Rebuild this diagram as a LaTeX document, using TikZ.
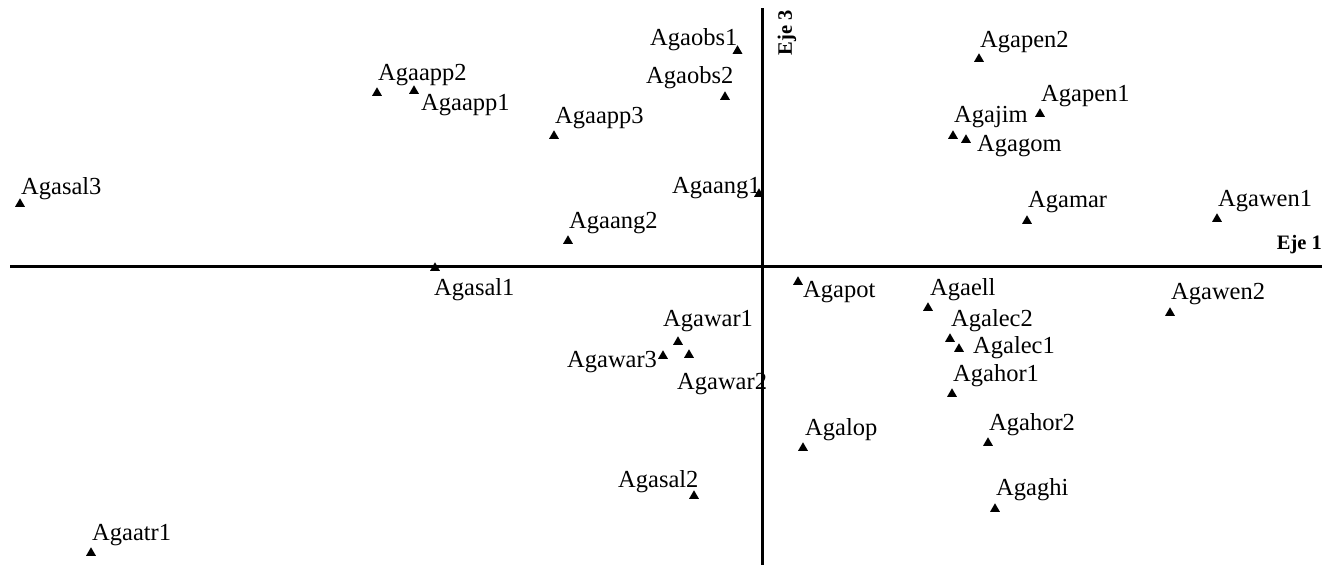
\documentclass[tikz,border=0pt]{standalone}
\usepackage{fontspec}
\setmainfont{Liberation Serif}
\usetikzlibrary{shapes.geometric}
\begin{document}
\begin{tikzpicture}[x=1pt,y=-1pt,
  tri/.style={regular polygon,regular polygon sides=3,fill=black,draw=none,inner sep=0pt,minimum size=11.5pt},
  lab/.style={inner sep=0pt,font=\fontsize{24.5}{27}\selectfont},
  axislab/.style={inner sep=0pt,font=\fontsize{20.5}{23}\selectfont\bfseries},
  axis/.style={line width=2.6pt}]
\useasboundingbox (0,0) rectangle (1339,565);
% axes
\coordinate (h1) at (10,266.5);
\coordinate (h2) at (1322,266.5);
\coordinate (v1) at (762.5,8);
\coordinate (v2) at (762.5,565);
\draw[axis] (h1) -- (h2);
\draw[axis] (v1) -- (v2);
\node[axislab,anchor=east] (eje1) at (1322,245) {Eje 1};
\node[axislab,rotate=90] (eje3) at (787,33) {Eje 3};
% points
\foreach \n/\x/\y/\t/\lx/\ly/\a in {
  sal3/20/204/Agasal3/21/189/west,
  app2/377/93/Agaapp2/378/75/west,
  app1/414/91/Agaapp1/421/105/west,
  app3/554/136/Agaapp3/555/118/west,
  obs1/737.5/51/Agaobs1/650/40/west,
  obs2/725/97/Agaobs2/646/78/west,
  ang1/759/194/Agaang1/672/188/west,
  ang2/568/241/Agaang2/569/223/west,
  sal1/435/268/Agasal1/434/290/west,
  pot/798/282/Agapot/803/292/west,
  war1/678/342/Agawar1/663/321/west,
  war3/663/356/Agawar3/567/362/west,
  war2/689/355/Agawar2/677/384/west,
  lop/803/448/Agalop/805/430/west,
  sal2/694/496/Agasal2/618/482/west,
  atr1/91/553/Agaatr1/92/535/west,
  pen2/979/59/Agapen2/980/42/west,
  pen1/1040/114/Agapen1/1041/96/west,
  jim/953/136/Agajim/954/117/west,
  gom/966/140/Agagom/977/146/west,
  mar/1027/221/Agamar/1028/202/west,
  wen1/1217/219/Agawen1/1218/201/west,
  ell/928/308/Agaell/930/290/west,
  lec2/950/339/Agalec2/951/321/west,
  lec1/959/349/Agalec1/973/348/west,
  hor1/952/394/Agahor1/953/376/west,
  hor2/988/443/Agahor2/989/425/west,
  ghi/995/509/Agaghi/996/490/west,
  wen2/1170/313/Agawen2/1171/294/west}
{
  \node[tri] (p\n) at (\x,\y) {};
  \node[lab,anchor=\a] (l\n) at (\lx,\ly) {\t};
}
\end{tikzpicture}
\end{document}
